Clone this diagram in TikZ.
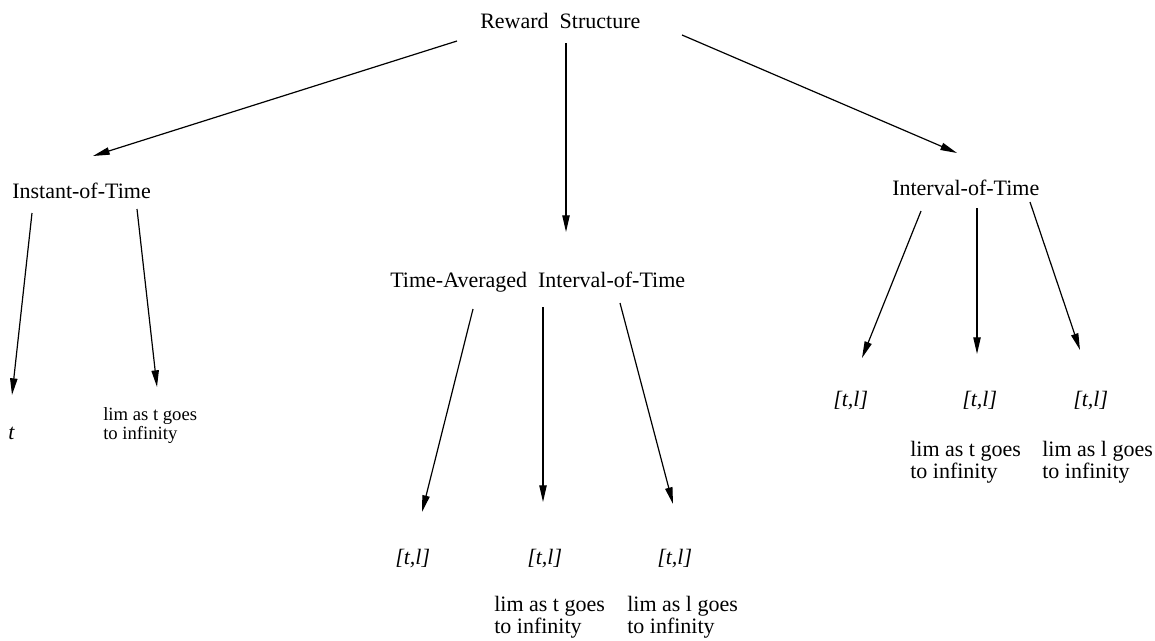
\documentclass[tikz,border=0pt]{standalone}
\usepackage{fontspec}
\setmainfont{Liberation Serif}
\usetikzlibrary{arrows.meta}
\begin{document}
\begin{tikzpicture}[x=0.75pt,y=-0.75pt,
  lbl/.style={inner sep=0pt,anchor=base west,font=\fontsize{16.5}{15}\selectfont},
  sml/.style={inner sep=0pt,anchor=base west,align=left,font=\fontsize{14}{14.25}\selectfont},
  lim/.style={inner sep=0pt,anchor=base west,align=left,font=\fontsize{16.5}{14.25}\selectfont},
  ivl/.style={inner sep=0pt,anchor=base west,font=\fontsize{16.5}{15}\selectfont\itshape},
  arr/.style={-{Triangle[length=12.5pt,width=5.5pt]},line width=0.9pt}]
\useasboundingbox (0,0) rectangle (1155,640);
% nodes
\node[lbl] (rw) at (480,28) {Reward~~Structure};
\node[lbl] (it) at (12,198) {Instant-of-Time};
\node[lbl] (ta) at (390,287) {Time-Averaged~~Interval-of-Time};
\node[lbl] (iv) at (892,195) {Interval-of-Time};
\node[ivl] (t0) at (8,439) {t};
\node[sml] (l0) at (103,439) {lim as t goes\\to infinity};
\node[ivl] (a1) at (395,564) {[t,l]};
\node[ivl] (a2) at (527,564) {[t,l]};
\node[ivl] (a3) at (657,564) {[t,l]};
\node[lim] (b2) at (494,633) {lim as t goes\\to infinity};
\node[lim] (b3) at (627,633) {lim as l goes\\to infinity};
\node[ivl] (c1) at (833,406) {[t,l]};
\node[ivl] (c2) at (962,406) {[t,l]};
\node[ivl] (c3) at (1073,406) {[t,l]};
\node[lim] (d2) at (910,478) {lim as t goes\\to infinity};
\node[lim] (d3) at (1042,478) {lim as l goes\\to infinity};
% connector end points
\coordinate (rw1) at (457,41);  \coordinate (it0) at (93,156);
\coordinate (rw2) at (566,43);  \coordinate (ta0) at (566,232);
\coordinate (rw3) at (682,35);  \coordinate (iv0) at (957,153);
\coordinate (it1) at (32,213);  \coordinate (t0a) at (12,395);
\coordinate (it2) at (137,209); \coordinate (l0a) at (157,387);
\coordinate (ta1) at (473,309); \coordinate (a1a) at (422,512);
\coordinate (ta2) at (543,307); \coordinate (a2a) at (543,502);
\coordinate (ta3) at (620,303); \coordinate (a3a) at (673,504);
\coordinate (iv1) at (921,211); \coordinate (c1a) at (862,358);
\coordinate (iv2) at (977,208); \coordinate (c2a) at (977,354);
\coordinate (iv3) at (1030,202);\coordinate (c3a) at (1080,350);
% connectors
\draw[arr] (rw1) -- (it0);
\draw[arr] (rw2) -- (ta0);
\draw[arr] (rw3) -- (iv0);
\draw[arr] (it1) -- (t0a);
\draw[arr] (it2) -- (l0a);
\draw[arr] (ta1) -- (a1a);
\draw[arr] (ta2) -- (a2a);
\draw[arr] (ta3) -- (a3a);
\draw[arr] (iv1) -- (c1a);
\draw[arr] (iv2) -- (c2a);
\draw[arr] (iv3) -- (c3a);
\end{tikzpicture}
\end{document}
